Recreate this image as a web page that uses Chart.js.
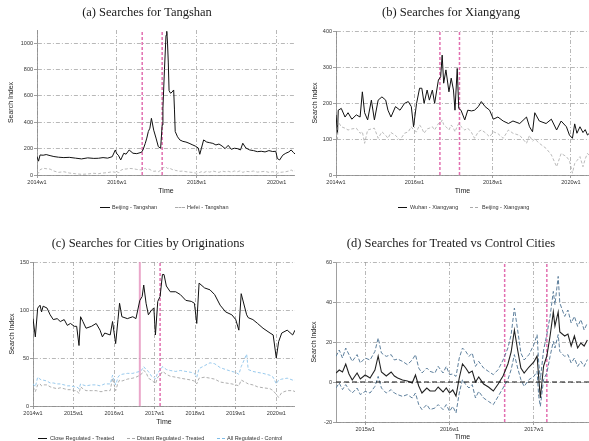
<!DOCTYPE html>
<html>
<head>
<meta charset="utf-8">
<script src="https://cdn.jsdelivr.net/npm/chart.js@4.4.1/dist/chart.umd.min.js"></script>
<style>
body { margin: 0; background: #fff; width: 589px; height: 441px; position: relative; overflow: hidden; font-family: "Liberation Sans", Arial, sans-serif; }
canvas { position: absolute; }
.ttl { position: absolute; font-family: "Liberation Serif", "DejaVu Serif", serif; font-size: 12.5px; color: #1a1a1a; white-space: nowrap; transform: translate(-50%, -50%); }
.lg { position: absolute; font-size: 5.5px; color: #333; white-space: nowrap; transform: translateY(-50%); }
.sw { position: absolute; height: 0; }
</style>
</head>
<body>
<canvas id="ca" width="295" height="220" style="left:0;top:0"></canvas>
<canvas id="cb" width="294" height="220" style="left:295px;top:0"></canvas>
<canvas id="cc" width="295" height="221" style="left:0;top:220px"></canvas>
<canvas id="cd" width="294" height="221" style="left:295px;top:220px"></canvas>

<div class="ttl" style="left:147px;top:12px">(a) Searches for Tangshan</div>
<div class="ttl" style="left:451px;top:12px">(b) Searches for Xiangyang</div>
<div class="ttl" style="left:148px;top:243px">(c) Searches for Cities by Originations</div>
<div class="ttl" style="left:451px;top:243px">(d) Searches for Treated vs Control Cities</div>

<div class="sw" style="left:100px;top:207px;width:10px;border-top:1px solid #111"></div>
<div class="lg" style="left:112px;top:207px">Beijing - Tangshan</div>
<div class="sw" style="left:175px;top:207px;width:10px;border-top:1px dashed #aaa"></div>
<div class="lg" style="left:187px;top:207px">Hefei - Tangshan</div>

<div class="sw" style="left:398px;top:207px;width:9px;border-top:1px solid #111"></div>
<div class="lg" style="left:410px;top:207px">Wuhan - Xiangyang</div>
<div class="sw" style="left:470px;top:207px;width:8px;border-top:1px dashed #aaa"></div>
<div class="lg" style="left:482px;top:207px">Beijing - Xiangyang</div>

<div class="sw" style="left:38px;top:438px;width:9px;border-top:1px solid #111"></div>
<div class="lg" style="left:50px;top:438px">Close Regulated - Treated</div>
<div class="sw" style="left:127px;top:438px;width:8px;border-top:1px dashed #aaa"></div>
<div class="lg" style="left:137px;top:438px">Distant Regulated - Treated</div>
<div class="sw" style="left:217px;top:438px;width:8px;border-top:1px dashed #7fbde8"></div>
<div class="lg" style="left:227px;top:438px">All Regulated - Control</div>

<script>
// weeks are counted from 2014w1 (52 weeks per year)

// (a) Tangshan
var weeksA = [0,2,4,8,12,17,22,28,35,42,
  50,58,66,74,80,86,92,98,102,104,
  106,109,113,116,120,125,130,136,138,141,
  143,145,147,149,152,155,158,161,163,164,
  166,168,169,170,171,172,174,176,178,179,
  180,183,186,190,194,198,202,206,210,212,
  214,217,221,225,229,233,237,241,245,249,
  253,257,261,265,268,272,277,282,287,292,
  297,302,307,311,313,316,320,324,328,331,
  334,336];
var beijingTangshan = [140,105,152,150,155,147,140,135,132,134,
  128,122,130,126,127,132,128,139,190,160,
  150,114,165,158,190,165,162,172,190,240,
  280,330,355,430,340,280,215,203,380,507,
  800,1060,1090,1000,850,640,620,630,645,500,
  330,290,266,255,250,241,230,220,205,157,
  200,266,250,245,240,228,235,220,200,225,
  195,203,200,190,241,205,190,185,177,180,
  175,185,178,180,125,114,150,165,175,190,
  170,160];
var hefeiTangshan = [25,15,40,51,48,45,30,20,25,15,
  10,5,8,13,10,15,18,25,20,30,
  15,35,46,45,50,48,42,38,45,50,
  40,46,42,35,28,30,25,35,45,50,
  63,58,55,50,52,45,48,42,38,40,
  35,32,28,30,25,22,20,15,13,20,
  25,18,28,22,30,25,20,30,25,28,
  22,30,25,32,20,28,25,30,22,25,
  28,20,25,18,13,20,22,25,30,38,
  28,32];
var eventsA = [137, 163];
var xTicksA = [0, 104, 208, 312];
var xLabelsA = ['2014w1', '2016w1', '2018w1', '2020w1'];
var yTicksA = [0, 200, 400, 600, 800, 1000];

// (b) Xiangyang
var weeksB = [0,2,3,7,12,16,21,27,32,35,
  38,42,47,51,56,61,66,69,73,79,
  85,91,96,100,103,107,111,114,117,121,
  124,128,131,136,139,141,143,146,150,153,
  156,158,161,163,166,171,175,180,184,189,
  193,198,204,209,215,222,229,235,244,253,
  257,261,264,270,279,286,293,299,306,310,
  314,317,320,324,328,331,334,336];
var wuhanXiangyang = [167,116,180,185,161,173,155,167,161,231,
  173,153,208,153,208,217,208,180,161,190,
  180,199,204,190,134,199,241,241,199,236,
  208,236,199,264,273,333,255,292,231,269,
  236,180,296,185,180,153,180,178,180,190,
  204,190,180,155,161,150,143,150,143,161,
  134,120,173,150,143,155,125,150,134,111,
  102,142,116,134,118,126,111,115];
var beijingXiangyang = [116,100,148,134,130,125,128,130,116,120,
  88,125,128,130,102,120,110,102,118,110,
  97,116,120,134,125,120,139,130,116,128,
  130,134,125,143,145,153,140,134,125,139,
  130,120,135,143,135,125,130,118,102,120,
  125,118,106,120,115,102,125,116,110,88,
  110,94,100,88,74,56,23,60,51,40,
  5,32,40,51,23,45,60,55];
var eventsB = [138, 164];
var yTicksB = [0, 100, 200, 300, 400];

// (c) cities by originations
var weeksC = [0,3,6,9,11,13,18,22,26,31,
  35,40,44,48,53,56,59,61,64,68,
  75,81,86,89,92,99,102,106,109,111,
  114,121,128,132,137,140,142,145,148,152,
  155,157,160,163,166,168,171,176,183,189,
  196,203,207,210,213,220,227,233,240,247,
  255,260,264,267,274,276,282,288,295,304,
  308,312,315,319,326,333,336];
var closeTreated = [91,72,102,105,98,104,102,95,90,91,
  88,90,84,86,83,83,63,93,88,81,
  83,86,79,72,76,74,88,65,90,107,
  93,91,93,91,110,114,126,107,95,100,
  102,74,109,114,137,137,125,119,119,116,
  110,109,107,86,128,123,121,116,105,98,
  95,90,79,117,95,92,90,86,81,76,
  74,50,67,76,79,74,79];
var distantTreated = [20,15,22,23,21,22,22,20,19,18,
  19,18,17,17,16,16,13,20,18,16,
  16,16,15,15,16,16,29,16,24,27,
  26,28,29,30,32,34,37,35,29,27,
  25,23,30,32,36,35,33,31,30,29,
  28,27,26,23,29,30,29,28,25,24,
  23,22,21,27,24,23,22,20,19,18,
  16,12,9,14,16,16,15];
var allControl = [23,20,30,28,27,27,26,24,24,23,
  23,22,21,21,20,20,18,23,22,21,
  22,22,21,22,23,23,32,22,30,32,
  33,34,34,35,36,38,41,38,36,31,
  30,28,35,37,41,40,38,37,36,37,
  36,35,34,30,39,42,45,44,40,38,
  36,35,33,41,54,38,36,35,34,32,
  30,23,27,28,29,27,27];
var eventsC = [137, 163];
var xTicksC = [0, 52, 104, 156, 208, 260, 312];
var xLabelsC = ['2014w1', '2015w1', '2016w1', '2017w1', '2018w1', '2019w1', '2020w1'];
var yTicksC = [0, 50, 100, 150];

// (d) treated vs control
var weeksD = [34,36,38,40,42,44,47,49,52,55,
  58,60,62,65,68,70,72,75,78,81,
  83,85,87,90,92,95,97,100,102,104,
  106,108,110,112,114,116,118,120,122,125,
  128,131,134,137,140,142,144,146,148,150,
  153,156,158,159,160,162,164,166,168,169,
  171,172,175,177,179,181,183,185,187,189];
var diffEst = [4.5,6,5,9,4,1,4.5,1.5,3.5,2,
  6,13,5,3,5,3,2,1,0.5,-0.5,
  3.5,-2,-5.5,-3,-4.5,-4.5,-2.5,-5,-3,-5.5,
  -4,-7,2,9,7,4.5,5.5,0,2.5,-1,
  -2.5,-4.5,-1,3,9,15,26,16,7,4.5,
  7.5,10,13,2,-8,8,13,23,35,28,
  35,25,23,24,18,23,17,19.5,18,21];
var diffUpper = [12.8,16,12,17,13.7,10.3,13.7,9.5,12,11,
  15.3,22,14.5,12.8,13.7,11,11.5,10.3,8.7,11,
  13.7,7,4.5,7,5.3,4.5,7.8,4.5,7.8,3.7,
  4,2.8,12,17,15.3,12.8,14.5,7.8,10.3,7,
  5.3,3.7,6.2,11,17,23.7,37,26,14.5,11,
  13.7,18.7,23.7,9.5,1.2,16,23.7,32.8,45.3,38.7,
  52.8,39.5,32.8,36,29.5,32.8,27.8,31.2,26,29.5];
var diffLower = [-3,-0.5,-3.8,-1.3,-3.8,-5.5,-3,-6.3,-4.7,-5.5,
  -2.2,2.8,-3,-5.5,-3.8,-5.5,-6.3,-7.2,-6.3,-8,
  -5.5,-11.3,-13.8,-11.3,-13.8,-13,-11.3,-13.8,-11.3,-14.7,
  -12.2,-15.5,-5.5,1.2,-1.3,-3,-1.3,-8,-4.7,-8,
  -9.7,-11.3,-7.2,-3,1.2,6.2,13.7,7,1.2,-2.2,
  1.2,2.8,5.3,-7.2,-12.2,1.2,4.5,12.8,20.3,17,
  23.7,15.3,12.8,13.7,9.5,12,7.8,10.3,7.8,11.2];
var eventsD = [138, 164];
var xTicksD = [52, 104, 156];
var xLabelsD = ['2015w1', '2016w1', '2017w1'];
var yTicksD = [-20, 0, 20, 40, 60];

var tickFont = { family: 'Liberation Sans, Arial, sans-serif', size: 5.5 };
var titleFont = { family: 'Liberation Sans, Arial, sans-serif', size: 7 };

function pts(xs, ys) {
  return xs.map(function (x, i) { return { x: x, y: ys[i] }; });
}

function series(xs, ys, color, width, dash) {
  return { data: pts(xs, ys), borderColor: color, borderWidth: width, borderDash: dash || [],
    pointRadius: 0, tension: 0, fill: false };
}

// thin coloured 1px lines lose their hue in the photo, so these are a bit wider
function eventLine(x, y0, y1, color, width, dash) {
  return { data: [{ x: x, y: y0 }, { x: x, y: y1 }], borderColor: color, borderWidth: width,
    borderDash: dash, pointRadius: 0, fill: false };
}

function makeChart(id, o) {
  new Chart(document.getElementById(id), {
    type: 'line',
    data: { datasets: o.datasets },
    options: {
      responsive: false,
      animation: false,
      devicePixelRatio: 1,
      layout: { padding: { left: o.padL, right: 0, top: o.padT, bottom: o.padB } },
      plugins: { legend: { display: false }, title: { display: false }, tooltip: { enabled: false } },
      scales: {
        x: {
          type: 'linear', min: o.xMin, max: o.xMax,
          afterBuildTicks: function (s) { s.ticks = o.xTicks.map(function (v) { return { value: v }; }); },
          afterFit: function (s) { s.height = o.xH; },
          ticks: { font: tickFont, color: '#333', padding: 1, maxRotation: 0, autoSkip: false,
            callback: function (v) { return o.xLabels[o.xTicks.indexOf(v)]; } },
          grid: { color: '#9a9a9a', lineWidth: 0.7, tickLength: 3, tickColor: '#777', tickWidth: 0.7, tickBorderDash: [] },
          border: { color: '#888', width: 0.8, dash: [4, 2, 1, 2] },
          title: { display: true, text: 'Time', font: titleFont, color: '#222', padding: 0 }
        },
        y: {
          min: o.yMin, max: o.yMax,
          afterBuildTicks: function (s) { s.ticks = o.yTicks.map(function (v) { return { value: v }; }); },
          afterFit: function (s) { s.width = o.yW; },
          ticks: { font: tickFont, color: '#333', padding: 1, callback: function (v) { return String(v); } },
          grid: { color: '#9a9a9a', lineWidth: 0.7, tickLength: 3, tickColor: '#777', tickWidth: 0.7, tickBorderDash: [] },
          border: { color: '#888', width: 0.8, dash: [4, 2, 1, 2] },
          title: { display: true, text: 'Search Index', font: titleFont, color: '#222', padding: 0 }
        }
      }
    }
  });
}

var red = '#e26fb0';

makeChart('ca', {
  xMin: 0, xMax: 336, yMin: 0, yMax: 1100, xTicks: xTicksA, xLabels: xLabelsA, yTicks: yTicksA,
  padL: 7, padT: 30, padB: 25, yW: 30, xH: 20,
  datasets: [
    series(weeksA, hefeiTangshan, '#aaaaaa', 0.8, [3, 2]),
    series(weeksA, beijingTangshan, '#111111', 1),
    eventLine(eventsA[0], 0, 1100, red, 1.5, [3, 2]),
    eventLine(eventsA[1], 0, 1100, red, 1.5, [3, 2])
  ]
});

makeChart('cb', {
  xMin: 0, xMax: 336, yMin: 0, yMax: 400, xTicks: xTicksA, xLabels: xLabelsA, yTicks: yTicksB,
  padL: 16, padT: 31, padB: 25, yW: 25, xH: 20,
  datasets: [
    series(weeksB, beijingXiangyang, '#aaaaaa', 0.8, [3, 2]),
    series(weeksB, wuhanXiangyang, '#111111', 1),
    eventLine(eventsB[0], 0, 400, red, 1.5, [3, 2]),
    eventLine(eventsB[1], 0, 400, red, 1.5, [3, 2])
  ]
});

makeChart('cc', {
  xMin: 0, xMax: 336, yMin: 0, yMax: 150, xTicks: xTicksC, xLabels: xLabelsC, yTicks: yTicksC,
  padL: 8, padT: 42, padB: 15, yW: 25, xH: 20,
  datasets: [
    series(weeksC, allControl, '#7fbde8', 0.8, [3, 2]),
    series(weeksC, distantTreated, '#999999', 0.8, [3, 2]),
    series(weeksC, closeTreated, '#111111', 1),
    eventLine(eventsC[0], 0, 150, 'rgba(225,130,180,0.7)', 2, []),
    eventLine(eventsC[1], 0, 150, red, 1.5, [3, 2])
  ]
});

makeChart('cd', {
  xMin: 34, xMax: 190, yMin: -20, yMax: 60, xTicks: xTicksD, xLabels: xLabelsD, yTicks: yTicksD,
  padL: 15, padT: 42, padB: 0, yW: 26, xH: 19,
  datasets: [
    { data: [{ x: 34, y: 0 }, { x: 190, y: 0 }], borderColor: '#111', borderWidth: 1.1, borderDash: [5, 3], pointRadius: 0 },
    series(weeksD, diffUpper, '#5d7f9c', 1, [4, 2]),
    series(weeksD, diffLower, '#5d7f9c', 1, [4, 2]),
    series(weeksD, diffEst, '#222222', 1.1),
    eventLine(eventsD[0], -20, 60, red, 1.5, [3, 2]),
    eventLine(eventsD[1], -20, 60, red, 1.5, [3, 2])
  ]
});
</script>
</body>
</html>
